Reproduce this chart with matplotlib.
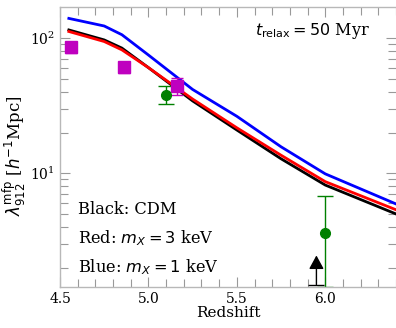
import matplotlib
matplotlib.use("Agg")
import matplotlib.pyplot as plt
import numpy as np

plt.rcParams["font.family"] = ["DejaVu Serif"]
plt.rcParams["mathtext.fontset"] = "dejavusans"

# Model mean free path curves (h^-1 comoving Mpc) vs redshift
z_model = [4.55, 4.75, 4.85, 5.0, 5.25, 5.5, 5.75, 6.0, 6.4]
mfp_cdm = [115, 97, 84.4, 60.5, 34.3, 20.9, 12.8, 8.18, 5.0]
mfp_3kev = [112, 94.4, 81.9, 60.5, 35.4, 21.7, 13.6, 8.67, 5.37]
mfp_1kev = [140, 123, 106, 75, 41.7, 26.4, 15.7, 9.9, 5.93]

# Worseck et al. measurements
z_w14 = [4.56, 4.86, 5.16]
mfp_w14 = [86, 61.5, 44.4]
err_w14_lo = [8.0, 6.5, 6.6]
err_w14_hi = [8.0, 5.5, 6.0]

# Becker et al. measurements
z_b21 = [5.1, 6.0]
mfp_b21 = [37.8, 3.6]
err_b21_lo = [5.0, 2.15]
err_b21_hi = [6.5, 3.2]

# Lower limit
z_lim = [5.95]
mfp_lim = [1.5]

fig = plt.figure(figsize=(3.96, 3.28), dpi=100)
ax = fig.add_axes([60 / 396, 1 - 287 / 328, 336 / 396, 280 / 328])

ax.plot(z_model, mfp_cdm, color="black", lw=2.0)
ax.plot(z_model, mfp_3kev, color="red", lw=2.0)
ax.plot(z_model, mfp_1kev, color="blue", lw=2.0)

ax.errorbar(z_w14, mfp_w14, yerr=[err_w14_lo, err_w14_hi], fmt="s", color="m",
            ms=8, capsize=4.5, elinewidth=1, capthick=1, ecolor="m")
ax.errorbar(z_b21, mfp_b21, yerr=[err_b21_lo, err_b21_hi], fmt="o", color="green",
            ms=7, capsize=5.5, elinewidth=1, capthick=1, ecolor="green")

for zl, ml in zip(z_lim, mfp_lim):
    ax.plot([zl], [ml], marker="_", ms=11, mew=1, color="black")
    ax.annotate("", xy=(zl, ml), xytext=(0, 21), textcoords="offset points",
                arrowprops=dict(arrowstyle="<|-,head_length=0.55,head_width=0.3",
                                color="black", lw=1, shrinkA=0, shrinkB=0,
                                mutation_scale=15))

ax.set_yscale("log")
ax.set_xlim(4.5, 6.4)
ax.set_ylim(1.44, 170)
ax.set_xticks([4.5, 5.0, 5.5, 6.0])
ax.set_xticklabels(["4.5", "5.0", "5.5", "6.0"])
ax.xaxis.set_minor_locator(matplotlib.ticker.MultipleLocator(0.1))

spine_col = "#b8b8b8"
for side, sp in ax.spines.items():
    sp.set_color(spine_col)
    sp.set_linewidth(1.0)
ax.spines["right"].set_visible(False)

ax.tick_params(which="both", direction="in", top=True, right=True,
               color="#999999", labelsize=10, width=0.8)
ax.tick_params(which="major", length=7)
ax.tick_params(which="minor", length=5.5)

ax.set_xlabel("Redshift", fontsize=11, labelpad=0)
ax.set_ylabel(r"$\lambda_{912}^{\rm mfp}$ [$h^{-1}$Mpc]", fontsize=12)
ax.yaxis.set_label_coords(-0.092, 0.47)

ax.text(0.58, 0.9, r"$t_{\rm relax} = 50$ Myr", transform=ax.transAxes, fontsize=11.5)
ax.text(0.054, 0.26, "Black: CDM", transform=ax.transAxes, fontsize=11.7)
ax.text(0.054, 0.155, r"Red: $m_X = 3$ keV", transform=ax.transAxes, fontsize=11.7)
ax.text(0.054, 0.052, r"Blue: $m_X = 1$ keV", transform=ax.transAxes, fontsize=11.7)

fig.savefig("out.png", dpi=100)
